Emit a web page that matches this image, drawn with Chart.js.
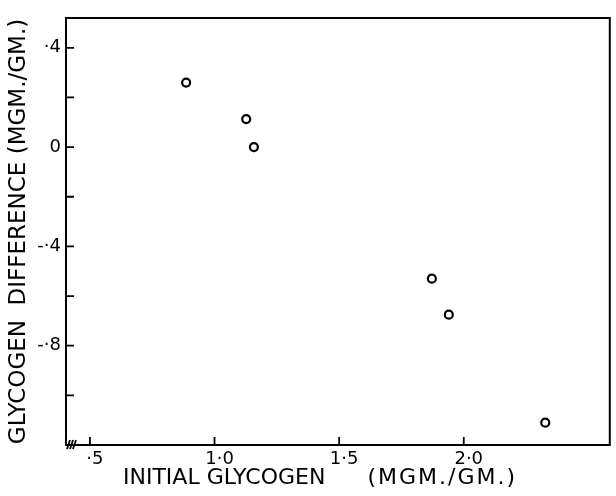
<!DOCTYPE html>
<html><head><meta charset="utf-8">
<script src="https://cdn.jsdelivr.net/npm/chart.js@4/dist/chart.umd.min.js"></script>
<style>html,body{margin:0;padding:0;background:#fff}#wrap{width:616px;height:496px}</style>
</head><body><div id="wrap"><canvas id="c" width="616" height="496"></canvas></div>
<script>
const initialGlycogen = [0.886, 1.127, 1.158, 1.872, 1.94, 2.327];
const glycogenDifference = [0.26, 0.113, 0.0, -0.53, -0.675, -1.11];
const xTickValues = [0.5, 1.0, 1.5, 2.0];
const xTickLabels = ['·5', '1·0', '1·5', '2·0'];
const yTickValues = [0.4, 0.2, 0, -0.2, -0.4, -0.6, -0.8, -1.0];
const yLabelValues = [0.4, 0, -0.4, -0.8];
const yLabelTexts = ['·4', '0', '-·4', '-·8'];
const xTitleMain = 'INITIAL GLYCOGEN';
const xTitleUnit = '(MGM./GM.)';
const yTitle = 'GLYCOGEN  DIFFERENCE (MGM./GM.)';

const FONT = '"DejaVu Sans"';
const points = initialGlycogen.map((x, i) => ({x, y: glycogenDifference[i]}));

const framePlugin = {
  id: 'frame',
  afterDraw(chart) {
    const {ctx, chartArea: a, scales} = chart;
    ctx.save();
    ctx.strokeStyle = '#000';
    ctx.lineWidth = 2;
    ctx.strokeRect(a.left, a.top, a.right - a.left, a.bottom - a.top);
    ctx.lineWidth = 1.8;
    ctx.beginPath();
    yTickValues.forEach(v => {
      const p = scales.y.getPixelForValue(v);
      ctx.moveTo(a.left, p); ctx.lineTo(a.left + 8, p);
    });
    xTickValues.forEach(v => {
      const p = scales.x.getPixelForValue(v);
      ctx.moveTo(p, a.bottom); ctx.lineTo(p, a.bottom - 8);
    });
    ctx.stroke();
    // axis break marks
    ctx.lineWidth = 1.8;
    ctx.beginPath();
    for (let k = 0; k < 3; k++) {
      const bx = a.left + 1 + k * 3;
      ctx.moveTo(bx, a.bottom + 4); ctx.lineTo(bx + 3, a.bottom - 5);
    }
    ctx.stroke();
    // x title
    ctx.fillStyle = '#000';
    ctx.font = '22px ' + FONT;
    ctx.textBaseline = 'middle';
    ctx.textAlign = 'left';
    ctx.fillText(xTitleMain, 123, 478);
    if ('letterSpacing' in ctx) ctx.letterSpacing = '2px';
    ctx.textAlign = 'right';
    ctx.fillText(xTitleUnit, 517, 478);
    ctx.restore();
  }
};

new Chart(document.getElementById('c'), {
  type: 'scatter',
  data: {
    datasets: [{
      data: points,
      pointStyle: 'circle',
      pointRadius: 4,
      pointBorderWidth: 2.2,
      pointBackgroundColor: '#fff',
      pointBorderColor: '#000'
    }]
  },
  options: {
    responsive: false,
    animation: false,
    devicePixelRatio: 1,
    layout: {padding: {top: 18, right: 3, left: 0, bottom: 0}},
    plugins: {legend: {display: false}, tooltip: {enabled: false}},
    scales: {
      x: {
        type: 'linear', min: 0.404, max: 2.586,
        afterBuildTicks: s => { s.ticks = xTickValues.map(v => ({value: v})); },
        afterFit: s => { s.height = 51; },
        grid: {display: false, drawTicks: false},
        border: {display: false},
        ticks: {
          padding: 4, labelOffset: 5, color: '#000', font: {family: FONT, size: 18},
          callback: (v) => { const i = xTickValues.findIndex(t => Math.abs(t - v) < 1e-6); return i >= 0 ? xTickLabels[i] : ''; }
        },
        title: {display: false}
      },
      y: {
        type: 'linear', min: -1.2, max: 0.52,
        afterBuildTicks: s => { s.ticks = yLabelValues.map(v => ({value: v})); },
        afterFit: s => { s.width = 66; },
        grid: {display: false, drawTicks: false},
        border: {display: false},
        ticks: {
          padding: 5, color: '#000', font: {family: FONT, size: 18},
          callback: (v) => { const i = yLabelValues.findIndex(t => Math.abs(t - v) < 1e-6); return i >= 0 ? yLabelTexts[i] : ''; }
        },
        title: {display: true, text: yTitle, color: '#000', font: {family: FONT, size: 23}, padding: {top: 5, bottom: 0}}
      }
    }
  },
  plugins: [framePlugin]
});
</script></body></html>
